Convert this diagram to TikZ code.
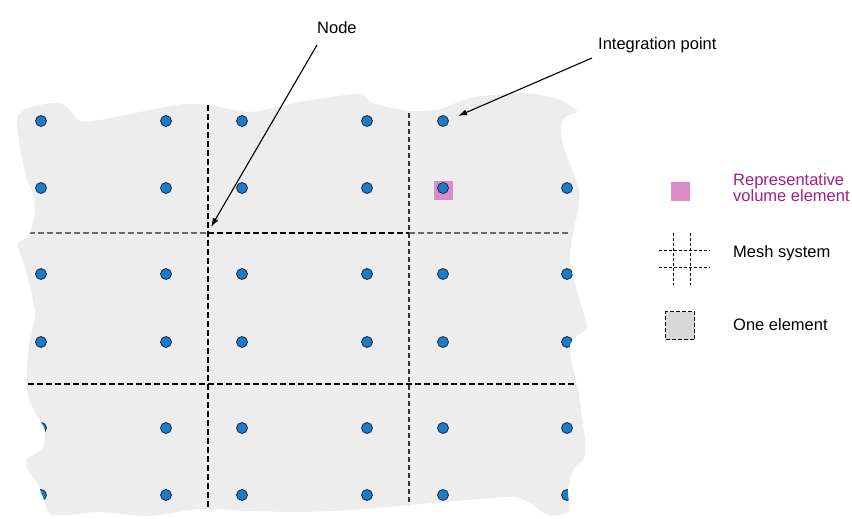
\documentclass[tikz,border=0pt]{standalone}
\usepackage{fontspec}
\setmainfont{Liberation Sans}
\usetikzlibrary{arrows.meta}
\definecolor{blobgray}{RGB}{237,237,237}
\definecolor{dotblue}{RGB}{30,122,196}
\definecolor{dotedge}{RGB}{25,45,70}
\definecolor{rvepink}{RGB}{216,140,200}
\definecolor{rvetext}{RGB}{160,30,140}
\definecolor{gridgray}{RGB}{105,105,105}
\definecolor{elemgray}{RGB}{216,216,216}
\tikzset{
  lbl/.style={inner sep=0pt, anchor=base west, font=\fontsize{16.5}{19}\selectfont},
  ptr/.style={line width=1.1pt, -{Latex[length=9pt,width=6pt]}},
  dot/.style={circle, draw=dotedge, fill=dotblue, line width=0.8pt, minimum size=11pt, inner sep=0pt},
  blackdash/.style={line width=1.8pt, black, dash pattern=on 6pt off 3pt},
  graydash/.style={line width=1.5pt, gridgray, dash pattern=on 6pt off 3pt},
  thindash/.style={line width=1.1pt, black!80, dash pattern=on 5pt off 3pt},
  meshdash/.style={line width=1pt, black, dash pattern=on 2.5pt off 2.5pt},
}
\begin{document}
\begin{tikzpicture}[x=1pt,y=-1pt]
\useasboundingbox (0,0) rectangle (852,519);
\fill[white] (0,0) rectangle (852,519);

% material blob with integration points
\begin{scope}
\clip plot[smooth cycle, tension=0.45] coordinates {
 (17,118) (28,108) (45,104) (60,103) (68,108) (80,121) (100,120) (150,110)
 (183,104) (210,105) (250,112) (300,102) (345,95) (362,94) (367,99) (375,104)
 (410,111) (440,109) (470,98) (520,93) (555,98) (570,106) (577,112) (565,117)
 (561,127) (563,145) (572,170) (579,190) (578,210) (573,233) (570,260)
 (578,295) (587,327) (577,336) (570,345) (572,365) (578,390) (585,440)
 (584,458) (573,470) (568,490) (569,510) (560,515) (547,515) (533,505)
 (515,497) (480,499) (410,505) (350,510) (300,512) (250,511) (200,509)
 (150,516) (100,512) (53,515) (43,497) (37,482) (27,468) (28,458) (43,448)
 (45,430) (36,414) (28,395) (27,367) (30,340) (35,317) (33,300) (25,267)
 (18,247) (19,242) (29,236) (33,222) (35,213) (33,193) (27,180) (20,147)
};
\fill[blobgray] (0,0) rectangle (852,519);
% grid lines
\draw[graydash] (29,233) -- (208,233);
\draw[graydash] (409,233) -- (571,233);
\draw[blackdash] (208,233) -- (409,233);
\draw[blackdash] (28,384) -- (576,384);
\draw[blackdash] (208,105) -- (208,519);
\draw[thindash] (409,113) -- (409,513);
% RVE
\fill[rvepink] (433.5,180.5) rectangle (452.5,199.5);
% integration points
\foreach \r/\yy in {1/121,2/188,3/274,4/342,5/428,6/495}{
  \foreach \c/\xx in {1/41,2/166,3/242,4/367,5/443,6/567}{
    \ifnum\r=1 \ifnum\c=6 \else
      \node[dot] (d-\r-\c) at (\xx,\yy) {};
    \fi \else
      \node[dot] (d-\r-\c) at (\xx,\yy) {};
    \fi
  }
}
\end{scope}

% labels and pointers
\node[lbl] (nodelbl) at (317,34) {Node};
\coordinate (nodetail) at (317,45);
\coordinate (nodetip) at (211,227);
\draw[ptr] (nodetail) -- (nodetip);

\node[lbl] (iplbl) at (598,50) {Integration point};
\coordinate (iptail) at (592,58);
\coordinate (iptip) at (458,116);
\draw[ptr] (iptail) -- (iptip);

% legend
\node[fill=rvepink, minimum size=19pt, inner sep=0pt] (legrve) at (680.5,191) {};
\node[lbl, text=rvetext] (rvel1) at (733,185.5) {Representative};
\node[lbl, text=rvetext] (rvel2) at (733,201) {volume element};

\coordinate (mesh) at (684.5,259);
\draw[meshdash] (673,233) -- (673,285);
\draw[meshdash] (690,233) -- (690,285);
\draw[meshdash] (659,250) -- (710,250);
\draw[meshdash] (659,267) -- (710,267);
\node[lbl] (meshlbl) at (733,257) {Mesh system};

\node[draw=black, fill=elemgray, line width=1.5pt, dash pattern=on 4pt off 2pt,
      minimum width=29pt, minimum height=28pt, inner sep=0pt] (legelem) at (680,325.5) {};
\node[lbl] (elemlbl) at (733,330) {One element};
\end{tikzpicture}
\end{document}
